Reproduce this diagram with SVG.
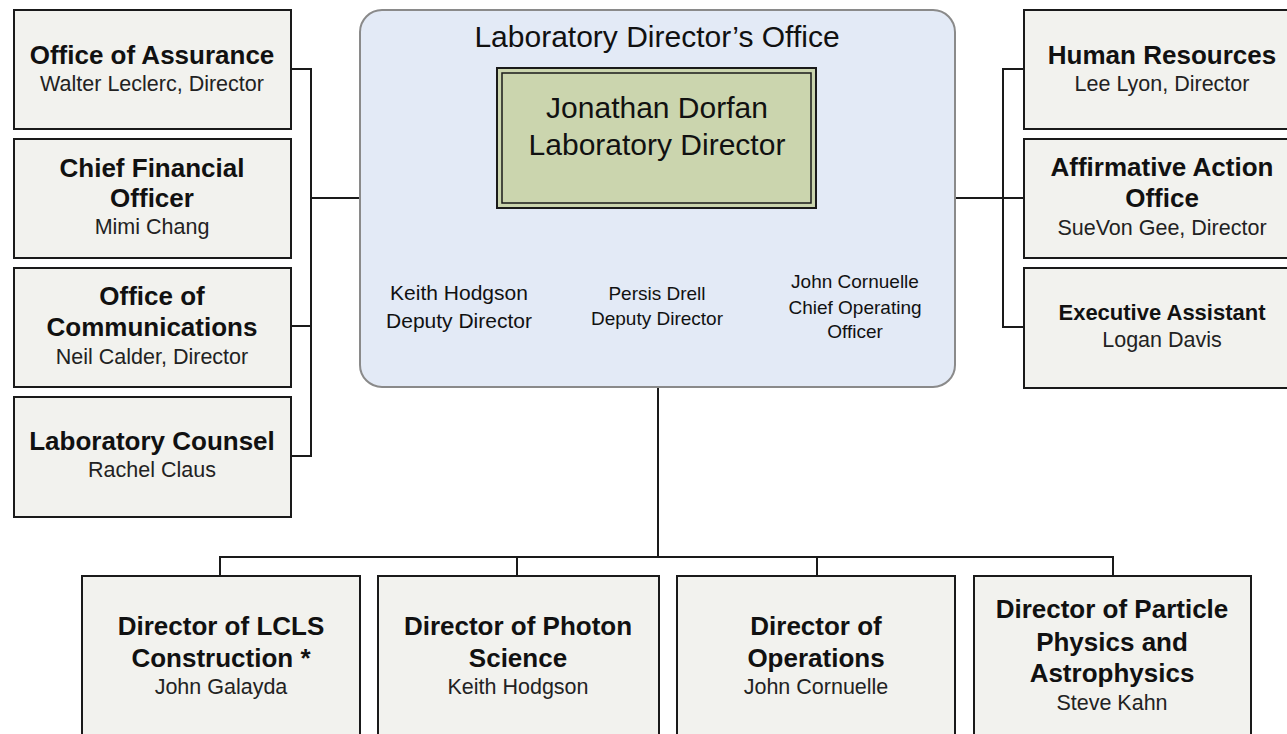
<svg xmlns="http://www.w3.org/2000/svg" width="1287" height="734" viewBox="0 0 1287 734">
<style>
.box{fill:#f2f2ee;stroke:#1a1a1a;stroke-width:2}
.t{font-family:"Liberation Sans",Arial,sans-serif;font-weight:bold;font-size:26px;fill:#111;text-anchor:middle}
.t2{font-family:"Liberation Sans",Arial,sans-serif;font-weight:bold;font-size:22px;fill:#111;text-anchor:middle}
.s{font-family:"Liberation Sans",Arial,sans-serif;font-size:21.5px;fill:#222;text-anchor:middle}
.d{font-family:"Liberation Sans",Arial,sans-serif;font-size:20px;fill:#111;text-anchor:middle}
.big{font-family:"Liberation Sans",Arial,sans-serif;font-size:30px;fill:#111;text-anchor:middle}
.conn{fill:none;stroke:#1a1a1a;stroke-width:2}
</style>
<rect width="1287" height="734" fill="#ffffff"/>
<g id="connectors">
<path class="conn" d="M291 69H311V456H291M311 198H360M291 326H311"/>
<path class="conn" d="M1024 69H1003V327H1024M955 198H1024"/>
<path class="conn" d="M658 387V557M220 576V557H1113V576M517 557V576M817 557V576"/>
</g>
<g id="director-office">
<rect x="360" y="10" width="595" height="377" rx="22" fill="#e3eaf6" stroke="#8a8a8a" stroke-width="2"/>
<text class="big" x="657" y="47">Laboratory Director’s Office</text>
<rect x="497" y="68" width="319" height="140" fill="#cbd5ae" stroke="#1a1a1a" stroke-width="2"/>
<rect x="502" y="73" width="309" height="130" fill="none" stroke="#1a1a1a" stroke-width="1.5"/>
<text class="big" x="657" y="118">Jonathan Dorfan</text>
<text class="big" x="657" y="155">Laboratory Director</text>
<text class="d" x="459" y="300" style="font-size:21px">Keith Hodgson</text>
<text class="d" x="459" y="328" style="font-size:21px">Deputy Director</text>
<text class="d" x="657" y="300" style="font-size:19px">Persis Drell</text>
<text class="d" x="657" y="325" style="font-size:19px">Deputy Director</text>
<text class="d" x="855" y="288" style="font-size:19px">John Cornuelle</text>
<text class="d" x="855" y="314" style="font-size:19px">Chief Operating</text>
<text class="d" x="855" y="338" style="font-size:19px">Officer</text>
</g>
<g id="office-assurance">
<rect class="box" x="14" y="10" width="277" height="119"/>
<text class="t" x="152" y="64">Office of Assurance</text>
<text class="s" x="152" y="91">Walter Leclerc, Director</text>
</g>
<g id="cfo">
<rect class="box" x="14" y="139" width="277" height="119"/>
<text class="t" x="152" y="177">Chief Financial</text>
<text class="t" x="152" y="207">Officer</text>
<text class="s" x="152" y="234">Mimi Chang</text>
</g>
<g id="communications">
<rect class="box" x="14" y="268" width="277" height="119"/>
<text class="t" x="152" y="305">Office of</text>
<text class="t" x="152" y="336">Communications</text>
<text class="s" x="152" y="364">Neil Calder, Director</text>
</g>
<g id="counsel">
<rect class="box" x="14" y="397" width="277" height="120"/>
<text class="t" x="152" y="450">Laboratory Counsel</text>
<text class="s" x="152" y="477">Rachel Claus</text>
</g>
<g id="human-resources">
<rect class="box" x="1024" y="10" width="277" height="119"/>
<text class="t" x="1162" y="64">Human Resources</text>
<text class="s" x="1162" y="91">Lee Lyon, Director</text>
</g>
<g id="affirmative-action">
<rect class="box" x="1024" y="139" width="277" height="119"/>
<text class="t" x="1162" y="176">Affirmative Action</text>
<text class="t" x="1162" y="207">Office</text>
<text class="s" x="1162" y="235">SueVon Gee, Director</text>
</g>
<g id="executive-assistant">
<rect class="box" x="1024" y="268" width="277" height="120"/>
<text class="t2" x="1162" y="320">Executive Assistant</text>
<text class="s" x="1162" y="347">Logan Davis</text>
</g>
<g id="lcls">
<rect class="box" x="82" y="576" width="278" height="180"/>
<text class="t" x="221" y="635">Director of LCLS</text>
<text class="t" x="221" y="667">Construction *</text>
<text class="s" x="221" y="694">John Galayda</text>
</g>
<g id="photon-science">
<rect class="box" x="378" y="576" width="281" height="180"/>
<text class="t" x="518" y="635">Director of Photon</text>
<text class="t" x="518" y="667">Science</text>
<text class="s" x="518" y="694">Keith Hodgson</text>
</g>
<g id="operations">
<rect class="box" x="677" y="576" width="278" height="180"/>
<text class="t" x="816" y="635">Director of</text>
<text class="t" x="816" y="667">Operations</text>
<text class="s" x="816" y="694">John Cornuelle</text>
</g>
<g id="particle-physics">
<rect class="box" x="974" y="576" width="277" height="180"/>
<text class="t" x="1112" y="618">Director of Particle</text>
<text class="t" x="1112" y="651">Physics and</text>
<text class="t" x="1112" y="682">Astrophysics</text>
<text class="s" x="1112" y="710">Steve Kahn</text>
</g>
</svg>
